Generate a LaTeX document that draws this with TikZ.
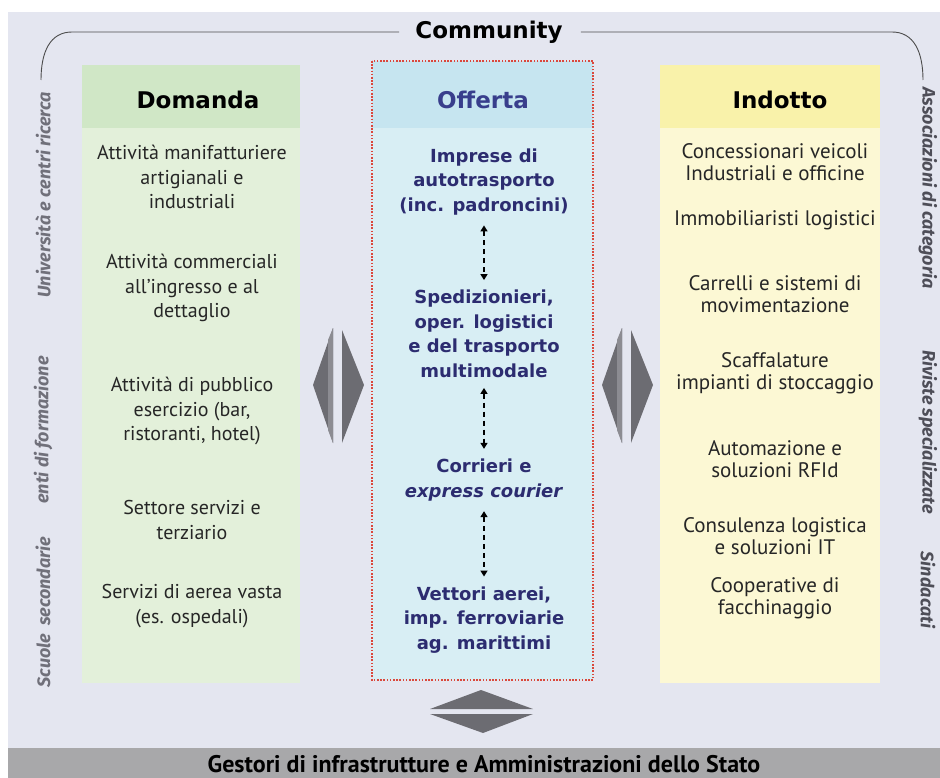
\documentclass[tikz,border=0pt]{standalone}
\usepackage{fontspec}
\setmainfont{PT Sans}
\newfontfamily\headfont{DejaVu Sans}
\newfontfamily\sidefont{Fira Sans}
\usetikzlibrary{arrows.meta,positioning}

\definecolor{panel}{RGB}{228,230,240}
\definecolor{bargray}{RGB}{168,168,170}
\definecolor{domhead}{RGB}{208,231,198}
\definecolor{dombody}{RGB}{227,240,218}
\definecolor{offhead}{RGB}{198,229,240}
\definecolor{offbody}{RGB}{216,238,244}
\definecolor{indhead}{RGB}{249,242,170}
\definecolor{indbody}{RGB}{252,248,212}
\definecolor{offtext}{RGB}{44,44,112}
\definecolor{offtitle}{RGB}{56,62,140}
\definecolor{dotred}{RGB}{218,72,60}
\definecolor{arrowgray}{RGB}{108,108,114}
\definecolor{arrowlight}{RGB}{140,140,146}
\definecolor{sidegray}{RGB}{112,112,122}
\definecolor{sidedark}{RGB}{78,78,88}

\tikzset{
  heading/.style={
    inner sep = 0pt,
    font = \headfont\bfseries\fontsize{23}{27}\selectfont
  },
  item/.style={
    align = center,
    inner sep = 0pt,
    text = black!85,
    font = \fontsize{20}{24.5}\selectfont
  },
  itemR/.style={
    item,
    font = \fontsize{21}{22}\selectfont
  },
  supply/.style={
    align = center,
    inner sep = 0pt,
    text = offtext,
    font = \headfont\bfseries\fontsize{18}{24.5}\selectfont
  },
  side/.style={
    inner sep = 0pt,
    font = \sidefont\bfseries\itshape\fontsize{18}{20}\selectfont
  },
  link/.style={
    {Triangle[length=6pt,width=7pt]}-{Triangle[length=6pt,width=7pt]},
    line width = 1.6pt,
    dash pattern = on 5pt off 4pt,
    shorten <= 10pt,
    shorten >= 10pt
  },
  community/.style={
    draw = black!70,
    line width = 0.9pt
  },
  bigarrow/.style={
    fill = arrowgray
  }
}

\begin{document}
\begin{tikzpicture}[x=1pt,y=-1pt]
    \useasboundingbox (0,0) rectangle (940,778);
    \fill[white] (0,0) rectangle (940,778);
    \fill[panel] (8,12) rectangle (940,748);
    \fill[bargray] (8,748) rectangle (940,778);

    \fill[dombody] (82,65) rectangle (300,683);
    \fill[domhead] (82,65) rectangle (300,128);
    \fill[offbody] (372,61) rectangle (593,680);
    \fill[offhead] (372,61) rectangle (593,128);
    \draw[dotred, line width=1.8pt, dash pattern=on 1.6pt off 1.6pt] (372,61) rectangle (593,680);
    \fill[indbody] (660,65) rectangle (880,683);
    \fill[indhead] (660,65) rectangle (880,128);

    \node[heading] (comm) at (489,32) {Community};
    \coordinate (commL) at (41,80);
    \coordinate (commR) at (923,80);
    \draw[community] ([xshift=-16pt]comm.west) -- (72,32) .. controls (50,32) and (41,52) .. (commL);
    \draw[community] ([xshift=18pt]comm.east) -- (892,32) .. controls (914,32) and (923,52) .. (commR);

    \node[heading] (dom) at (198,100) {Domanda};
    \node[heading, text=offtitle] (off) at (483,100) {Offerta};
    \node[heading] (ind) at (780,100) {Indotto};

    \node[item] (d1) at (192,177) {Attività manifatturiere\\artigianali e\\industriali};
    \node[item] (d2) at (192,288) {Attività commerciali\\all’ingresso e al\\dettaglio};
    \node[item] (d3) at (192,411) {Attività di pubblico\\esercizio (bar,\\ristoranti, hotel)};
    \node[item] (d4) at (192,520) {Settore servizi e\\terziario};
    \node[item] (d5) at (192,606) {Servizi di aerea vasta\\(es. ospedali)};

    \node[supply] (o1) at (484,182) {Imprese di\\autotrasporto\\(inc. padroncini)};
    \node[supply] (o2) at (484,334) {Spedizionieri,\\oper. logistici\\e del trasporto\\multimodale};
    \node[supply] (o3) at (484,480) {Corrieri e\\\textit{express courier}};
    \node[supply] (o4) at (484,620) {Vettori aerei,\\imp. ferroviarie\\ag. marittimi};
    \draw[link] (o1) -- (o2);
    \draw[link] (o2) -- (o3);
    \draw[link] (o3) -- (o4);

    \node[itemR] (i1) at (775,162) {Concessionari veicoli\\Industriali e officine};
    \node[itemR] (i2) at (775,220) {Immobiliaristi logistici};
    \node[itemR] (i3) at (775,294) {Carrelli e sistemi di\\movimentazione};
    \node[itemR] (i4) at (775,373) {Scaffalature\\impianti di stoccaggio};
    \node[itemR] (i5) at (775,459) {Automazione e\\soluzioni RFId};
    \node[itemR] (i6) at (775,536) {Consulenza logistica\\e soluzioni IT};
    \node[itemR] (i7) at (775,598) {Cooperative di\\facchinaggio};

    \node[side, text=sidegray, rotate=90] (s1) at (43,195) {Università e centri ricerca};
    \node[side, text=sidegray, rotate=90] (s2) at (43,430) {enti di formazione};
    \node[side, text=sidegray, rotate=90] (s3) at (43,612) {Scuole\ \ secondarie};
    \node[side, text=sidedark, rotate=-90] (r1) at (928,188) {Associazioni di categoria};
    \node[side, text=sidedark, rotate=-90] (r2) at (928,432) {Riviste specializzate};
    \node[side, text=sidedark, rotate=-90] (r3) at (928,590) {Sindacati};

    % exchange arrows between the columns
    \fill[bigarrow] (313,385) -- (333,328) -- (333,443) -- cycle;
    \fill[bigarrow] (342,330) -- (364,385) -- (342,443) -- cycle;
    \fill[arrowlight] (328,340) -- (333,328) -- (333,443) -- (328,430) -- cycle;
    \fill[bigarrow] (602,385) -- (622,328) -- (622,443) -- cycle;
    \fill[bigarrow] (631,330) -- (653,385) -- (631,443) -- cycle;
    \fill[arrowlight] (617,340) -- (622,328) -- (622,443) -- (617,430) -- cycle;
    \fill[bigarrow] (430,709) -- (481,690) -- (533,709) -- cycle;
    \fill[bigarrow] (430,714) -- (483,733) -- (533,714) -- cycle;

    \node[font=\bfseries\fontsize{24}{26}\selectfont, inner sep=0pt] (gest) at (484,764) {Gestori di infrastrutture e Amministrazioni dello Stato};
\end{tikzpicture}
\end{document}
